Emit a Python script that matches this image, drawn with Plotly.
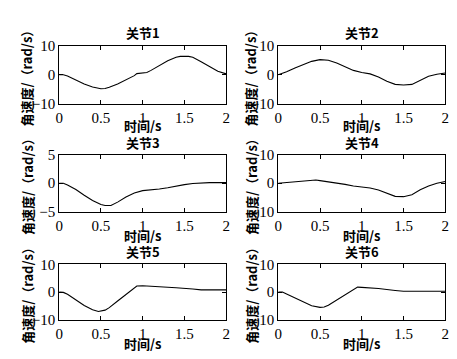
import plotly.graph_objects as go

# ---- data ----
t1 = [0, 0.05, 0.1, 0.2, 0.3, 0.4, 0.5, 0.55, 0.6, 0.7, 0.8, 0.9, 0.93, 1.0, 1.05, 1.1, 1.2, 1.3, 1.4, 1.45, 1.55, 1.6, 1.7, 1.8, 1.9, 2.0]
v1 = [0, 0, -0.4, -1.8, -3.2, -4.2, -4.8, -4.7, -4.3, -3.2, -1.8, -0.3, 0.4, 0.6, 0.8, 1.5, 3.2, 4.8, 6.0, 6.3, 6.3, 6.0, 4.5, 2.7, 1.2, 0.3]

t2 = [0, 0.1, 0.2, 0.3, 0.4, 0.5, 0.6, 0.7, 0.8, 0.9, 1.0, 1.1, 1.2, 1.3, 1.4, 1.5, 1.6, 1.7, 1.8, 1.9, 2.0]
v2 = [0, 1.0, 2.3, 3.5, 4.6, 5.2, 5.0, 4.0, 2.7, 1.5, 0.8, 0.3, -0.8, -2.2, -3.3, -3.5, -3.3, -1.8, -0.5, 0.2, 0.6]

t3 = [0, 0.05, 0.1, 0.2, 0.3, 0.4, 0.5, 0.55, 0.62, 0.7, 0.8, 0.9, 1.0, 1.1, 1.2, 1.3, 1.4, 1.5, 1.6, 1.7, 1.8, 2.0]
v3 = [0, 0, -0.3, -1.1, -2.1, -3.0, -3.7, -3.9, -3.9, -3.3, -2.4, -1.7, -1.3, -1.2, -1.0, -0.8, -0.5, -0.25, -0.05, 0.05, 0.1, 0.1]

t4 = [0, 0.1, 0.2, 0.3, 0.4, 0.45, 0.5, 0.6, 0.7, 0.8, 0.9, 1.0, 1.1, 1.2, 1.3, 1.4, 1.5, 1.6, 1.7, 1.8, 1.9, 2.0]
v4 = [0, 0.3, 0.6, 0.9, 1.1, 1.1, 0.9, 0.5, 0.1, -0.4, -1.0, -1.3, -1.7, -2.4, -3.5, -4.6, -4.7, -4.0, -2.3, -1.0, 0.0, 0.6]

t5 = [0, 0.05, 0.1, 0.2, 0.3, 0.4, 0.47, 0.55, 0.6, 0.7, 0.8, 0.9, 0.93, 1.0, 1.2, 1.4, 1.6, 1.7, 1.8, 2.0]
v5 = [0, -0.1, -0.8, -2.8, -4.8, -6.4, -7.0, -6.5, -5.6, -3.2, -0.8, 1.5, 2.2, 2.3, 2.0, 1.6, 1.1, 0.8, 0.8, 0.8]

t6 = [0, 0.05, 0.1, 0.2, 0.3, 0.4, 0.5, 0.55, 0.6, 0.7, 0.8, 0.9, 0.95, 1.0, 1.2, 1.4, 1.5, 2.0]
v6 = [0, 0, -0.7, -2.2, -3.7, -4.9, -5.5, -5.4, -4.7, -2.8, -0.9, 1.0, 1.8, 1.7, 1.3, 0.6, 0.3, 0.3]

titles = ["关节1", "关节2", "关节3", "关节4", "关节5", "关节6"]
y_ranges = [(-10, 10), (-10, 10), (-5, 5), (-10, 10), (-10, 10), (-10, 10)]
y_ticks = [[-10, 0, 10], [-10, 0, 10], [-5, 0, 5], [-10, 0, 10], [-10, 0, 10], [-10, 0, 10]]
x_ticks = [0, 0.5, 1, 1.5, 2]
x_ticklabels = ["0", "0.5", "1", "1.5", "2"]
x_label = "时间/s"
y_label = "角速度/（rad/s）"

series = [(t1, v1), (t2, v2), (t3, v3), (t4, v4), (t5, v5), (t6, v6)]

W, H = 457, 359
# plot-box pixel positions
col_x = [(48, 218), (271, 441)]
row_y = [(31, 92), (145, 205), (260, 318)]
title_y = [17, 132, 246]
xlabel_y = [115, 230, 343]
ylabel_x = [15, 243]

serif = "Liberation Serif"
cjk = "Noto Sans CJK SC"

fig = go.Figure()
ann = []
for i, (t, v) in enumerate(series):
    r, c = divmod(i, 2)
    k = "" if i == 0 else str(i + 1)
    fig.add_trace(go.Scatter(x=t, y=v, mode="lines", line=dict(color="black", width=1.1),
                             xaxis="x" + k, yaxis="y" + k, showlegend=False, hoverinfo="skip"))
    x0, x1 = col_x[c]
    y0, y1 = row_y[r]
    common = dict(showline=True, linecolor="black", linewidth=1, mirror="ticks", ticks="inside",
                  ticklen=4, tickcolor="black", showgrid=False, zeroline=False,
                  tickfont=dict(family=serif, size=15, color="black"))
    fig.layout["xaxis" + k] = dict(domain=[x0 / W, x1 / W], range=[0, 2], tickvals=x_ticks,
                                   ticktext=x_ticklabels, anchor="y" + k, **common)
    fig.layout["yaxis" + k] = dict(domain=[1 - y1 / H, 1 - y0 / H], range=list(y_ranges[i]),
                                   tickvals=y_ticks[i], anchor="x" + k, **common)
    cx = (x0 + x1) / 2 / W
    ann.append(dict(text="<b>" + titles[i] + "</b>", x=cx, y=1 - title_y[r] / H, xref="paper",
                    yref="paper", showarrow=False, font=dict(family=cjk, size=13, color="black"),
                    xanchor="center", yanchor="middle"))
    ann.append(dict(text="<b>" + x_label + "</b>", x=cx, y=1 - xlabel_y[r] / H, xref="paper",
                    yref="paper", showarrow=False, font=dict(family=cjk, size=13, color="black"),
                    xanchor="center", yanchor="middle"))
    ann.append(dict(text="<b>" + y_label + "</b>", x=ylabel_x[c] / W, y=1 - (y0 + y1) / 2 / H,
                    xref="paper", yref="paper", showarrow=False, textangle=-90,
                    font=dict(family=cjk, size=13, color="black"),
                    xanchor="center", yanchor="middle"))

fig.update_layout(width=W, height=H, margin=dict(l=0, r=0, t=0, b=0),
                  paper_bgcolor="white", plot_bgcolor="white", annotations=ann)
fig.write_html("out.html")
